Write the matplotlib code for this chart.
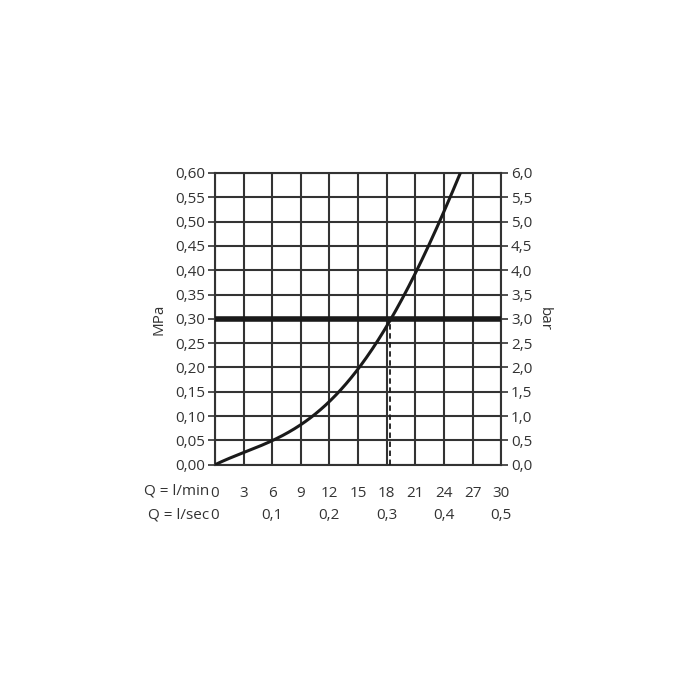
import numpy as np
import matplotlib
matplotlib.use("Agg")
import matplotlib.pyplot as plt
from matplotlib.transforms import blended_transform_factory

# flow-pressure curve
flow_lmin = [0, 3, 6, 9, 12, 13.5, 15.25, 16.7, 18.25, 19.6, 21.1, 22.6, 23.8, 24.7, 25.5]
pressure_mpa = [0.0, 0.024, 0.053, 0.086, 0.127, 0.15, 0.20, 0.25, 0.30, 0.35, 0.40,
                0.45, 0.50, 0.55, 0.60]

ref_pressure = 0.30
ref_flow = 18.4

x_ticks = [0, 3, 6, 9, 12, 15, 18, 21, 24, 27, 30]
lsec_pos = [0, 6, 12, 18, 24, 30]
lsec_labels = ["0", "0,1", "0,2", "0,3", "0,4", "0,5"]
y_ticks = [0.00, 0.05, 0.10, 0.15, 0.20, 0.25, 0.30, 0.35, 0.40, 0.45, 0.50, 0.55, 0.60]
mpa_labels = ["0,00", "0,05", "0,10", "0,15", "0,20", "0,25", "0,30",
              "0,35", "0,40", "0,45", "0,50", "0,55", "0,60"]
bar_labels = ["0,0", "0,5", "1,0", "1,5", "2,0", "2,5", "3,0",
              "3,5", "4,0", "4,5", "5,0", "5,5", "6,0"]

plt.rcParams['font.family'] = ['Open Sans', 'DejaVu Sans']
txt = "#333333"
ink = "#1a1a1a"
fs = 11

fig = plt.figure(figsize=(7, 7), dpi=100)
ax = fig.add_axes([0.307, 0.336, 0.409, 0.417])

# smooth the hand-read points: least squares on Q, Q^2, Q^3, Q^4 (curve starts at 0)
q = np.array(flow_lmin)
p = np.array(pressure_mpa)
A = np.column_stack([q, q ** 2, q ** 3, q ** 4])
c, *_ = np.linalg.lstsq(A, p, rcond=None)
xd = np.linspace(0, 26.5, 300)
yd = np.column_stack([xd, xd ** 2, xd ** 3, xd ** 4]) @ c
ax.plot(xd, yd, color=ink, lw=2.2, zorder=4, solid_capstyle="butt")

ax.axhline(ref_pressure, color=ink, lw=4, zorder=5)
ax.plot([ref_flow, ref_flow], [0, ref_pressure], color=ink, lw=1.3,
        ls=(0, (3, 2)), zorder=3)

ax.set_xlim(0, 30)
ax.set_ylim(0, 0.6)
ax.set_xticks(x_ticks)
ax.set_yticks(y_ticks)
ax.set_xticklabels([str(v) for v in x_ticks], fontsize=fs, color=txt)
ax.set_yticklabels(mpa_labels, fontsize=fs, color=txt)
ax.grid(True, color="#333333", lw=1.5)
ax.tick_params(axis="x", length=0, pad=15)
ax.tick_params(axis="y", length=5, width=1.2, color="#333333", pad=2)
for s in ax.spines.values():
    s.set_color("#333333")
    s.set_linewidth(1.5)

ax2 = ax.twinx()
ax2.set_ylim(0, 0.6)
ax2.set_yticks(y_ticks)
ax2.set_yticklabels(bar_labels, fontsize=fs, color=txt)
ax2.tick_params(axis="y", length=5, width=1.2, color="#333333", pad=2)
for s in ax2.spines.values():
    s.set_visible(False)

ax.set_ylabel("MPa", fontsize=fs, color=txt, labelpad=6)
ax2.set_ylabel("bar", fontsize=fs, color=txt, rotation=270, labelpad=14)

tr = blended_transform_factory(ax.transData, ax.transAxes)
for pos, lab in zip(lsec_pos, lsec_labels):
    ax.text(pos, -0.172, lab, transform=tr, ha="center", va="center",
            fontsize=fs, color=txt)
ax.text(-0.02, -0.09, "Q = l/min", transform=ax.transAxes, ha="right",
        va="center", fontsize=fs, color=txt)
ax.text(-0.02, -0.172, "Q = l/sec", transform=ax.transAxes, ha="right",
        va="center", fontsize=fs, color=txt)

fig.savefig("out.png", dpi=100, facecolor="white")
